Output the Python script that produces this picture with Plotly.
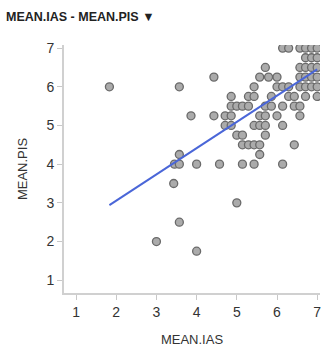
import plotly.graph_objects as go

# Scatter data (MEAN.IAS, MEAN.PIS)
ias = [
    6.14, 6.29, 6.57, 6.71, 6.86, 7.0,
    6.71, 6.86, 7.0,
    5.71, 6.57, 6.71, 6.86, 7.0,
    4.43, 5.57, 5.79, 6.0, 6.57, 6.71, 6.86, 7.0,
    1.83, 3.57, 5.43, 6.0, 6.14, 6.29, 6.57, 6.71, 6.86, 7.0,
    4.86, 5.29, 5.43, 5.86, 6.29, 6.43, 6.71, 7.0,
    4.86, 5.0, 5.14, 5.29, 5.71, 5.86, 6.14, 6.43, 6.57,
    3.86, 4.43, 4.71, 4.86, 5.57, 5.71, 6.0, 6.57,
    4.71, 4.86, 5.43, 5.57, 5.71, 6.14,
    5.0, 5.14, 5.71,
    5.14, 5.29, 5.43, 5.57, 6.43,
    3.57, 5.57,
    3.45, 3.57, 4.0, 4.57, 5.14, 5.43, 6.14,
    3.43,
    5.0,
    3.57,
    3.0,
    4.0,
]
pis = [
    7, 7, 7, 7, 7, 7,
    6.75, 6.75, 6.75,
    6.5, 6.5, 6.5, 6.5, 6.5,
    6.25, 6.25, 6.25, 6.25, 6.25, 6.25, 6.25, 6.25,
    6, 6, 6, 6, 6, 6, 6, 6, 6, 6,
    5.75, 5.75, 5.75, 5.75, 5.75, 5.75, 5.75, 5.75,
    5.5, 5.5, 5.5, 5.5, 5.5, 5.5, 5.5, 5.5, 5.5,
    5.25, 5.25, 5.25, 5.25, 5.25, 5.25, 5.25, 5.25,
    5, 5, 5, 5, 5, 5,
    4.75, 4.75, 4.75,
    4.5, 4.5, 4.5, 4.5, 4.5,
    4.25, 4.25,
    4, 4, 4, 4, 4, 4, 4,
    3.5,
    3,
    2.5,
    2,
    1.75,
]

# Trend line endpoints
trend_x = [1.83, 7.0]
trend_y = [2.94, 6.45]

tick_vals = [1, 2, 3, 4, 5, 6, 7]
tick_text = ["1", "2", "3", "4", "5", "6", "7"]

FONT = "Liberation Sans, Arial, sans-serif"

fig = go.Figure()
fig.add_trace(go.Scatter(
    x=ias, y=pis, mode="markers",
    marker=dict(size=8, color="#ababab", line=dict(color="#6a6a6a", width=1.3)),
    showlegend=False, hoverinfo="x+y",
))
fig.add_trace(go.Scatter(
    x=trend_x, y=trend_y, mode="lines",
    line=dict(color="#4a66d8", width=2),
    showlegend=False, hoverinfo="skip",
))

axis_common = dict(
    tickvals=tick_vals, ticktext=tick_text,
    showgrid=False, zeroline=False,
    showline=True, linecolor="#d0d0d0", linewidth=2,
    ticks="outside", ticklen=5, tickwidth=1, tickcolor="#c8c8c8",
    tickfont=dict(family=FONT, size=14, color="#333333"),
)

fig.update_layout(
    width=323, height=351,
    margin=dict(l=64, r=3, t=45, b=58),
    paper_bgcolor="white", plot_bgcolor="white",
    xaxis=dict(range=[0.70, 7.07], **axis_common,
               title=dict(text="MEAN.IAS", standoff=16,
                          font=dict(family=FONT, size=13, color="#333333"))),
    yaxis=dict(range=[0.67, 7.08], **axis_common,
               title=dict(text="MEAN.PIS", standoff=16,
                          font=dict(family=FONT, size=13, color="#333333"))),
    annotations=[dict(
        text="<b>MEAN.IAS - MEAN.PIS</b> ▼", xref="paper", yref="paper",
        x=0, y=1, xanchor="left", yanchor="bottom", xshift=-60, yshift=19, showarrow=False,
        font=dict(family=FONT, size=12.5, color="#222222"),
    )],
)

fig.write_html("out.html")
